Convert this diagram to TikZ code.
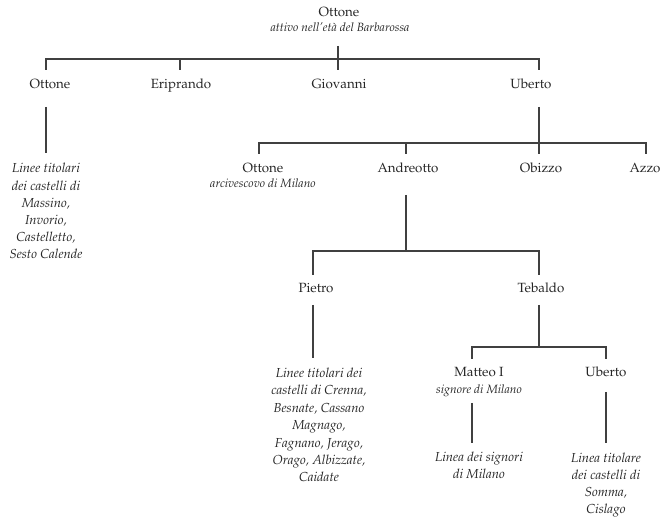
\documentclass[tikz,border=0pt]{standalone}
\usepackage[T1]{fontenc}
\usepackage{mathpazo}
\begin{document}
\begin{tikzpicture}[x=0.75pt,y=-0.75pt,
  person/.style={inner sep=0pt,anchor=base,font=\fontsize{10}{12}\selectfont,text=black!85},
  subtitle/.style={inner sep=0pt,anchor=base,font=\fontsize{9}{11}\selectfont\itshape,text=black!85},
  desctext/.style={inner sep=0pt,anchor=base,align=center,font=\fontsize{9.8}{12.9}\selectfont\itshape,text=black!85},
  link/.style={draw=black!75,line width=0.9pt}]
\useasboundingbox (0,0) rectangle (662,520);
% generation 1
\node[person] (o1) at (339,17) {Ottone};
\node[subtitle] (o1s) at (340,32) {attivo nell'et\`a del Barbarossa};
% generation 2
\node[person] (o2) at (50,89) {Ottone};
\node[person] (er) at (181,89) {Eriprando};
\node[person] (gi) at (339,89) {Giovanni};
\node[person] (ub) at (531,89) {Uberto};
\coordinate (c1) at (338,46);
\coordinate (b1) at (338,59);
\draw[link] (c1) -- (b1);
\draw[link] (46,70) |- (b1) -| (539,70);
\draw[link] (180,59) -- (180,70);
\draw[link] (338,59) -- (338,70);
% Ottone's lines
\node[desctext] (d1) at (46,259) {Linee titolari\\dei castelli di\\Massino,\\Invorio,\\Castelletto,\\Sesto Calende};
\draw[link] (46,107) -- (46,153);
% Uberto's children
\draw[link] (539,107) -- (539,143);
\draw[link] (259,154) |- (539,143) -| (646,154);
\draw[link] (406,143) -- (406,154);
\draw[link] (539,143) -- (539,154);
\node[person] (o3) at (263,173) {Ottone};
\node[subtitle] (o3s) at (263,188) {arcivescovo di Milano};
\node[person] (an) at (408,173) {Andreotto};
\node[person] (ob) at (541,173) {Obizzo};
\node[person] (az) at (645,173) {Azzo};
% Andreotto's children
\draw[link] (406,195) -- (406,251);
\draw[link] (313,275) |- (406,251) -| (539,275);
\node[person] (pi) at (316,293) {Pietro};
\node[person] (te) at (541,293) {Tebaldo};
% Pietro's lines
\draw[link] (313,305) -- (313,358);
\node[desctext,font=\fontsize{9.8}{13.1}\selectfont\itshape] (d2) at (319,482) {Linee titolari dei\\castelli di Crenna,\\Besnate, Cassano\\Magnago,\\Fagnano, Jerago,\\Orago, Albizzate,\\Caidate};
% Tebaldo's children
\draw[link] (539,305) -- (539,347);
\draw[link] (472,359) |- (539,347) -| (606,359);
\node[person] (mt) at (479,377) {Matteo I};
\node[subtitle] (mts) at (479,394) {signore di Milano};
\node[person] (ub2) at (606,377) {Uberto};
\draw[link] (472,403) -- (472,443);
\draw[link] (606,392) -- (606,443);
\node[desctext] (d3) at (479,479) {Linea dei signori\\di Milano};
\node[desctext] (d4) at (606,514) {Linea titolare\\dei castelli di\\Somma,\\Cislago};
\end{tikzpicture}
\end{document}
